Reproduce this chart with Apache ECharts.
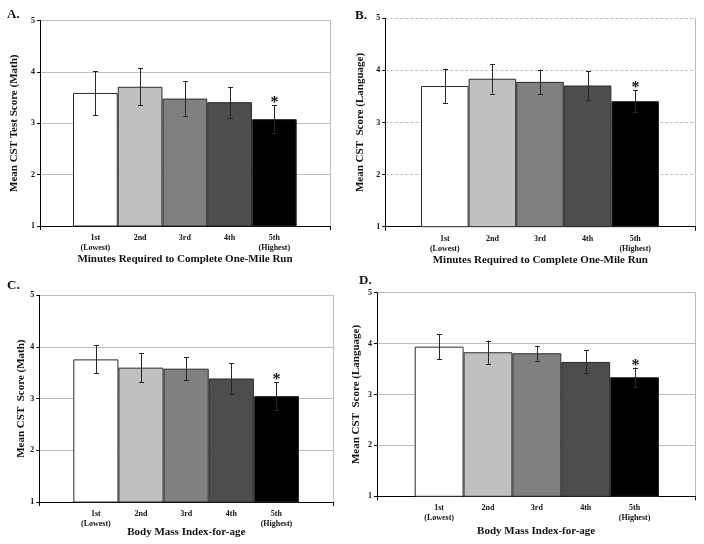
<!DOCTYPE html>
<html>
<head>
<meta charset="utf-8">
<script src="https://cdn.jsdelivr.net/npm/echarts@6/dist/echarts.min.js"></script>
<style>html,body{margin:0;padding:0;background:#fff}#c{width:704px;height:544px}</style>
</head>
<body>
<div id="c"></div>
<script>
// ---- data ----
const categories = ['1st\n(Lowest)', '2nd', '3rd', '4th', '5th\n(Highest)'];
const yTicks = [1, 2, 3, 4, 5];
const meansA = [3.59, 3.71, 3.48, 3.41, 3.08];
const errA   = [0.43, 0.36, 0.335, 0.30, 0.27];
const meansB = [3.70, 3.84, 3.78, 3.71, 3.41];
const errB   = [0.335, 0.285, 0.235, 0.28, 0.21];
const meansC = [3.76, 3.60, 3.58, 3.39, 3.05];
const errC   = [0.27, 0.285, 0.22, 0.30, 0.27];
const meansD = [3.94, 3.83, 3.81, 3.64, 3.34];
const errD   = [0.25, 0.23, 0.145, 0.225, 0.19];
const significant = [false, false, false, false, true];
const barColors = ['#ffffff', '#c0c0c0', '#808080', '#4d4d4d', '#000000'];
const xTitleRun = 'Minutes Required to Complete One-Mile Run';
const xTitleBmi = 'Body Mass Index-for-age';
const panelLetters = ['A.', 'B.', 'C.', 'D.'];
const yTitles = ['Mean CST Test Score (Math)', 'Mean CST  Score (Language)', 'Mean CST  Score (Math)', 'Mean CST  Score (Language)'];

const FONT = '"Liberation Serif", "Times New Roman", serif';

const panels = [
  {means: meansA, errs: errA, xTitle: xTitleRun, outer: {left: 40, top: 20.5, width: 290, height: 205.5}, inner: {left: 73, width: 223.7}, yGap: 20, xGap: 28, dashed: false, lab: [7, 8]},
  {means: meansB, errs: errB, xTitle: xTitleRun, outer: {left: 385.3, top: 18.3, width: 310, height: 208.4}, inner: {left: 421, width: 238}, yGap: 19.5, xGap: 28, dashed: true, lab: [355, 9]},
  {means: meansC, errs: errC, xTitle: xTitleBmi, outer: {left: 39.3, top: 295.3, width: 294, height: 206.7}, inner: {left: 73.3, width: 225.7}, yGap: 12.5, xGap: 25, dashed: false, lab: [7, 279]},
  {means: meansD, errs: errD, xTitle: xTitleBmi, outer: {left: 377, top: 292.7, width: 318.3, height: 203.6}, inner: {left: 414.7, width: 244.3}, yGap: 15, xGap: 29, dashed: false, lab: [359, 274]}
];

const grid = [], xAxis = [], yAxis = [], series = [], graphic = [];

panels.forEach((p, i) => {
  const go = grid.length;
  grid.push({left: p.outer.left, top: p.outer.top, width: p.outer.width, height: p.outer.height, containLabel: false});
  grid.push({left: p.inner.left, top: p.outer.top, width: p.inner.width, height: p.outer.height, containLabel: false});
  const xo = xAxis.length;
  // outer frame x axis (single category)
  xAxis.push({
    type: 'category', gridIndex: go, data: [''], boundaryGap: true,
    axisLine: {show: true, lineStyle: {color: '#000', width: 1}},
    axisTick: {show: true, length: 4, interval: 0, lineStyle: {color: '#000'}},
    axisLabel: {show: false},
    name: p.xTitle, nameLocation: 'middle', nameGap: p.xGap,
    nameTextStyle: {fontFamily: FONT, fontWeight: 'bold', fontSize: 11, color: '#111'}
  });
  // inner category axis for bars
  xAxis.push({
    type: 'category', gridIndex: go + 1, data: categories,
    axisLine: {show: false}, axisTick: {show: false},
    axisLabel: {show: true, interval: 0, fontFamily: FONT, fontWeight: 'bold', fontSize: 8, lineHeight: 10, color: '#111', margin: 7}
  });
  const yo = yAxis.length;
  yAxis.push({
    type: 'value', gridIndex: go, min: yTicks[0], max: yTicks[yTicks.length - 1], interval: 1,
    axisLine: {show: true, lineStyle: {color: '#000', width: 1}},
    axisTick: {show: true, length: 3, lineStyle: {color: '#000'}},
    axisLabel: {fontFamily: FONT, fontWeight: 'bold', fontSize: 8, color: '#111', margin: 5},
    splitLine: {show: true, lineStyle: {color: '#bdbdbd', width: 1, type: p.dashed ? [3, 2] : 'solid'}},
    name: yTitles[i], nameLocation: 'middle', nameGap: p.yGap,
    nameTextStyle: {fontFamily: FONT, fontWeight: 'bold', fontSize: 11, color: '#111'}
  });
  // right border
  yAxis.push({
    type: 'value', gridIndex: go, position: 'right', min: 1, max: 5, interval: 1,
    axisLine: {show: true, lineStyle: {color: '#bdbdbd', width: 1}},
    axisTick: {show: false}, axisLabel: {show: false}, splitLine: {show: false}
  });
  // inner hidden y axis
  yAxis.push({
    type: 'value', gridIndex: go + 1, min: 1, max: 5, interval: 1, show: false, splitLine: {show: false}
  });

  series.push({
    type: 'bar', xAxisIndex: xo + 1, yAxisIndex: yo + 2, barCategoryGap: 0, barGap: 0,
    data: p.means.map((v, k) => ({value: v, itemStyle: {color: barColors[k]}})),
    itemStyle: {borderColor: '#2a2a2a', borderWidth: 1},
    silent: true, z: 2
  });
  series.push({
    type: 'custom', xAxisIndex: xo + 1, yAxisIndex: yo + 2, z: 5, silent: true,
    data: p.means.map((v, k) => [k, v, p.errs[k], significant[k] ? 1 : 0]),
    renderItem: function (params, api) {
      const k = api.value(0), m = api.value(1), e = api.value(2), sig = api.value(3);
      const hi = api.coord([k, m + e]);
      const lo = api.coord([k, m - e]);
      const x = Math.round(hi[0]) + 0.5;
      const cap = 2.5;
      const st = {stroke: '#262626', lineWidth: 1};
      const children = [
        {type: 'line', shape: {x1: x, y1: hi[1], x2: x, y2: lo[1]}, style: st},
        {type: 'line', shape: {x1: x - cap, y1: Math.round(hi[1]) + 0.5, x2: x + cap, y2: Math.round(hi[1]) + 0.5}, style: st},
        {type: 'line', shape: {x1: x - cap, y1: Math.round(lo[1]) + 0.5, x2: x + cap, y2: Math.round(lo[1]) + 0.5}, style: st}
      ];
      if (sig) {
        children.push({type: 'text', x: x, y: hi[1] - 2, style: {text: '*', fontFamily: FONT, fontWeight: 'bold', fontSize: 16, fill: '#111', align: 'center', verticalAlign: 'middle'}});
      }
      return {type: 'group', children: children};
    }
  });

  graphic.push({type: 'text', left: p.lab[0], top: p.lab[1], style: {text: panelLetters[i], fontFamily: FONT, fontWeight: 'bold', fontSize: 13, fill: '#111'}});
});

const chart = echarts.init(document.getElementById('c'), null, {renderer: 'canvas'});
chart.setOption({
  animation: false,
  backgroundColor: '#ffffff',
  grid: grid, xAxis: xAxis, yAxis: yAxis, series: series, graphic: graphic
});
</script>
</body>
</html>
